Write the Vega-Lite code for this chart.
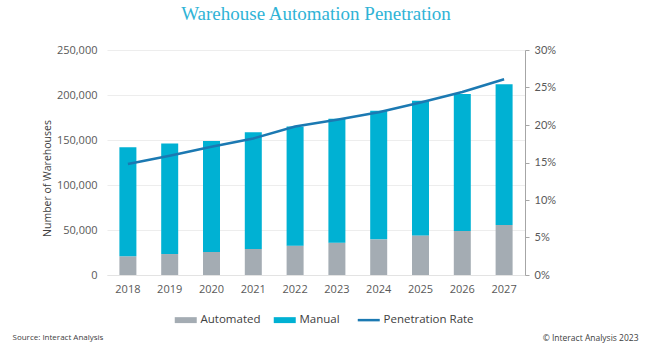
{
  "$schema": "https://vega.github.io/schema/vega-lite/v6.json",
  "autosize": {"type": "none"},
  "width": 418,
  "height": 225,
  "padding": {"left": 107, "top": 50, "right": 120, "bottom": 75},
  "background": "white",
  "title": {
    "text": "Warehouse Automation Penetration",
    "font": "Liberation Serif",
    "fontSize": 19,
    "fontWeight": "normal",
    "color": "#2fb3d6",
    "anchor": "middle",
    "offset": 20
  },
  "datasets": {
    "bars": [
      {"year": "2018", "type": "Automated", "count": 20800},
      {"year": "2018", "type": "Manual", "count": 121200},
      {"year": "2019", "type": "Automated", "count": 23300},
      {"year": "2019", "type": "Manual", "count": 122700},
      {"year": "2020", "type": "Automated", "count": 25600},
      {"year": "2020", "type": "Manual", "count": 123400},
      {"year": "2021", "type": "Automated", "count": 28900},
      {"year": "2021", "type": "Manual", "count": 129600},
      {"year": "2022", "type": "Automated", "count": 32600},
      {"year": "2022", "type": "Manual", "count": 132400},
      {"year": "2023", "type": "Automated", "count": 35900},
      {"year": "2023", "type": "Manual", "count": 137800},
      {"year": "2024", "type": "Automated", "count": 39600},
      {"year": "2024", "type": "Manual", "count": 143000},
      {"year": "2025", "type": "Automated", "count": 44000},
      {"year": "2025", "type": "Manual", "count": 149700},
      {"year": "2026", "type": "Automated", "count": 48900},
      {"year": "2026", "type": "Manual", "count": 152100},
      {"year": "2027", "type": "Automated", "count": 55600},
      {"year": "2027", "type": "Manual", "count": 156300}
    ],
    "rate": [
      {"year": "2018", "series": "Penetration Rate", "rate": 0.148},
      {"year": "2019", "series": "Penetration Rate", "rate": 0.159},
      {"year": "2020", "series": "Penetration Rate", "rate": 0.171},
      {"year": "2021", "series": "Penetration Rate", "rate": 0.182},
      {"year": "2022", "series": "Penetration Rate", "rate": 0.198},
      {"year": "2023", "series": "Penetration Rate", "rate": 0.207},
      {"year": "2024", "series": "Penetration Rate", "rate": 0.217},
      {"year": "2025", "series": "Penetration Rate", "rate": 0.230},
      {"year": "2026", "series": "Penetration Rate", "rate": 0.244},
      {"year": "2027", "series": "Penetration Rate", "rate": 0.261}
    ]
  },
  "encoding": {
    "x": {
      "field": "year",
      "type": "nominal",
      "scale": {"paddingInner": 0.6, "paddingOuter": 0.3},
      "axis": {
        "labelAngle": 0,
        "labelFont": "Open Sans",
        "labelFontSize": 11,
        "labelColor": "#595959",
        "labelPadding": 8,
        "domainColor": "#e3e3e3",
        "ticks": false,
        "grid": false,
        "title": "Source: Interact Analysis",
        "titleFont": "Open Sans",
        "titleFontSize": 8,
        "titleFontWeight": "normal",
        "titleColor": "#404040",
        "titleAnchor": null,
        "titleAlign": "left",
        "titleBaseline": "middle",
        "titleX": -95,
        "titleY": 62
      }
    }
  },
  "layer": [
    {
      "data": {"name": "bars"},
      "mark": {"type": "bar", "size": 17},
      "encoding": {
        "y": {
          "field": "count",
          "type": "quantitative",
          "aggregate": "sum",
          "stack": "zero",
          "scale": {"domain": [0, 250000]},
          "axis": {
            "values": [0, 50000, 100000, 150000, 200000, 250000],
            "format": ",.0f",
            "domain": false,
            "ticks": false,
            "grid": true,
            "gridColor": "#ededed",
            "labelFont": "Open Sans",
            "labelFontSize": 11,
            "labelColor": "#595959",
            "labelPadding": 10,
            "title": "Number of Warehouses",
            "titleFont": "Open Sans",
            "titleFontSize": 10.5,
            "titleFontWeight": "normal",
            "titleColor": "#404040",
            "titleX": -55,
            "titleY": 128
          }
        },
        "order": {"field": "type", "sort": "ascending"},
        "color": {
          "field": "type",
          "type": "nominal",
          "scale": {
            "domain": ["Automated", "Manual", "Penetration Rate"],
            "range": ["#a4acb3", "#00b1d3", "#1b79b2"]
          },
          "legend": {
            "orient": "none",
            "legendX": 73,
            "legendY": 264,
            "direction": "horizontal",
            "title": null,
            "labelFont": "Open Sans",
            "labelFontSize": 11.5,
            "labelColor": "#404040",
            "labelOffset": 9,
            "columnPadding": 12,
            "symbolSize": 484,
            "encode": {
              "symbols": {
                "update": {
                  "shape": {"signal": "datum.value === 'Penetration Rate' ? 'M-1,0H1' : 'M-1,-0.27H1V0.27H-1Z'"},
                  "fill": {"signal": "datum.value === 'Penetration Rate' ? 'transparent' : scale('color', datum.value)"},
                  "stroke": {"signal": "scale('color', datum.value)"},
                  "strokeWidth": {"signal": "datum.value === 'Penetration Rate' ? 2.5 : 0"},
                  "opacity": {"value": 1}
                }
              }
            }
          }
        }
      }
    },
    {
      "data": {"name": "rate"},
      "mark": {"type": "line", "strokeWidth": 2.5},
      "encoding": {
        "y": {
          "field": "rate",
          "type": "quantitative",
          "scale": {"domain": [0, 0.3]},
          "axis": {
            "orient": "right",
            "values": [0, 0.05, 0.1, 0.15, 0.2, 0.25, 0.3],
            "format": ".0%",
            "domain": true,
            "domainColor": "#a6a6a6",
            "ticks": true,
            "tickColor": "#a6a6a6",
            "tickSize": 4,
            "grid": false,
            "labelFont": "Lato",
            "labelFontSize": 11,
            "labelColor": "#595959",
            "labelPadding": 5,
            "title": "© Interact Analysis 2023",
            "titleAngle": 0,
            "titleFont": "Open Sans",
            "titleFontSize": 8.5,
            "titleFontWeight": "normal",
            "titleColor": "#404040",
            "titleAlign": "right",
            "titleBaseline": "middle",
            "titleX": 113,
            "titleY": 287
          }
        },
        "color": {"field": "series", "type": "nominal"}
      }
    }
  ],
  "resolve": {"scale": {"y": "independent"}},
  "config": {"view": {"stroke": null}}
}
